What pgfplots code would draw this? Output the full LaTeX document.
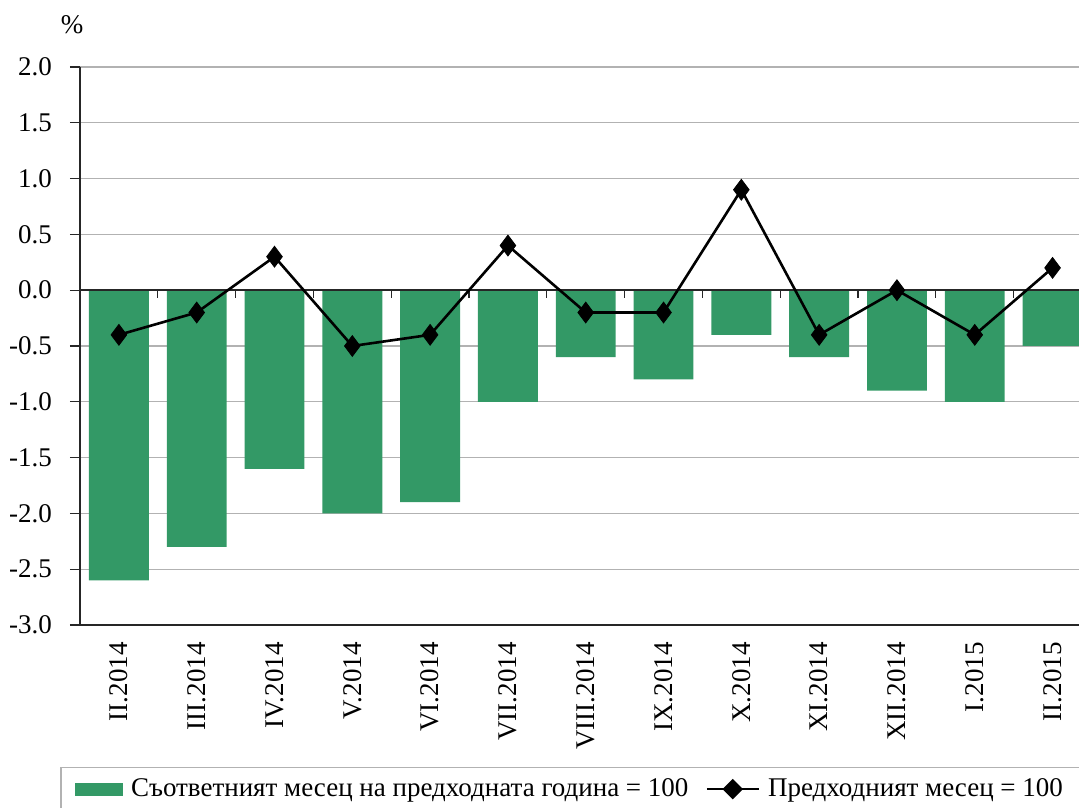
\documentclass[border=0pt]{standalone}
\usepackage{pgfplots}
\pgfplotsset{compat=1.18}
\usepackage{fontspec}
\setmainfont{Liberation Serif}
\definecolor{barg}{RGB}{51,153,102}
\newcommand{\fs}{\fontsize{13.5}{16}\selectfont}
\begin{document}
\begin{tikzpicture}
\begin{axis}[
  at={(0,0)}, anchor=south west,
  scale only axis, width=499.5pt, height=279pt,
  xmin=-0.5, xmax=12.34, ymin=-3, ymax=2,
  axis x line*=bottom, axis y line*=left,
  axis line style={black!85, line width=0.6pt},
  ytick={-3,-2.5,-2,-1.5,-1,-0.5,0,0.5,1,1.5,2},
  ymajorgrids, grid style={black!30, line width=0.6pt},
  xtick={0,1,2,3,4,5,6,7,8,9,10,11,12},
  xticklabels={II.2014,III.2014,IV.2014,V.2014,VI.2014,VII.2014,VIII.2014,IX.2014,X.2014,XI.2014,XII.2014,I.2015,II.2015},
  x tick style={draw=none},
  y tick style={black!85, line width=0.6pt},
  xticklabel style={rotate=90, anchor=east, font=\fs, inner sep=0pt, xshift=-3.5pt},
  yticklabel style={font=\fs, xshift=-5.5pt},
  yticklabel={\pgfmathprintnumber[fixed,fixed zerofill,precision=1,assume math mode=true]{\tick}},
  tick align=outside, major tick length=5pt,
  clip=false,
  legend style={at={(0.4915,-0.2545)}, anchor=north, legend columns=2,
    draw=black!30, line width=0.6pt, font=\fs, inner xsep=7pt, inner ysep=3.5pt,
    /tikz/every odd column/.append style={column sep=2pt},
    /tikz/every even column/.append style={column sep=6.5pt}},
]
\addplot[ybar, bar width=0.77, bar shift=0pt, fill=barg, draw=none,
  legend image code/.code={\fill[barg] (0pt,-3.25pt) rectangle (24pt,3.25pt);}]
  coordinates {(0,-2.6) (1,-2.3) (2,-1.6) (3,-2.0) (4,-1.9) (5,-1.0) (6,-0.6) (7,-0.8) (8,-0.4) (9,-0.6) (10,-0.9) (11,-1.0) (12,-0.5)};
\addlegendentry{Съответният месец на предходната година = 100}
\draw[black!85, line width=0.7pt] (axis cs:-0.5,0) -- (axis cs:12.34,0);
\pgfplotsinvokeforeach{0.5,1.5,2.5,3.5,4.5,5.5,6.5,7.5,8.5,9.5,10.5,11.5}{
  \draw[black!85, line width=0.6pt] (axis cs:#1,0) -- ([yshift=-4pt]axis cs:#1,0);
}
\addplot[black, line width=1.3pt, mark=diamond*, mark size=5.2pt, mark options={solid, line width=0.4pt},
  legend image code/.code={\draw[black, line width=1.3pt] (0pt,0pt) -- (26pt,0pt);
    \fill[black] (13pt,4.2pt) -- (17.2pt,0pt) -- (13pt,-4.2pt) -- (8.8pt,0pt) -- cycle;}]
  coordinates {(0,-0.4) (1,-0.2) (2,0.3) (3,-0.5) (4,-0.4) (5,0.4) (6,-0.2) (7,-0.2) (8,0.9) (9,-0.4) (10,0.0) (11,-0.4) (12,0.2)};
\addlegendentry{Предходният месец = 100}
\end{axis}
\node[font=\fs] at (-4pt,300pt) {\%};
\pgfresetboundingbox
\path (-40pt,-91pt) rectangle (499.5pt,312.5pt);
\end{tikzpicture}
\end{document}
